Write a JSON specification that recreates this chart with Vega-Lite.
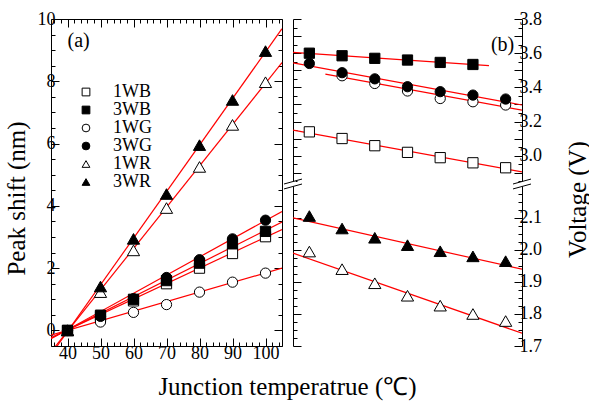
{
  "$schema": "https://vega.github.io/schema/vega-lite/v6.json",
  "padding": {"left": 4, "top": 10, "right": 2, "bottom": 2},
  "bounds": "flush",
  "config": {
    "font": "Liberation Serif",
    "view": {"stroke": null},
    "axis": {
      "grid": false, "domainColor": "black", "tickColor": "black", "labelColor": "black", "titleColor": "black",
      "labelFont": "Liberation Serif", "titleFont": "Liberation Serif", "labelFontSize": 18, "titleFontSize": 25,
      "titleFontWeight": "normal", "labelFlush": false, "labelOverlap": false, "domainWidth": 1, "tickWidth": 1
    },
    "legend": {
      "orient": "none", "legendX": 26, "legendY": 64, "labelFont": "Liberation Serif", "labelFontSize": 18,
      "labelColor": "black", "symbolSize": 60, "symbolStrokeWidth": 1,
      "rowPadding": 0, "labelOffset": 18
    }
  },
  "datasets": {
    "shift": [
      {"series": "1WB", "T": 40, "shift": 0}, {"series": "1WB", "T": 50, "shift": 0.45}, {"series": "1WB", "T": 60, "shift": 0.95}, {"series": "1WB", "T": 70, "shift": 1.5}, {"series": "1WB", "T": 80, "shift": 2.0}, {"series": "1WB", "T": 90, "shift": 2.47}, {"series": "1WB", "T": 100, "shift": 3.01},
      {"series": "3WB", "T": 40, "shift": 0}, {"series": "3WB", "T": 50, "shift": 0.49}, {"series": "3WB", "T": 60, "shift": 1.0}, {"series": "3WB", "T": 70, "shift": 1.6}, {"series": "3WB", "T": 80, "shift": 2.16}, {"series": "3WB", "T": 90, "shift": 2.78}, {"series": "3WB", "T": 100, "shift": 3.18},
      {"series": "1WG", "T": 40, "shift": 0}, {"series": "1WG", "T": 50, "shift": 0.27}, {"series": "1WG", "T": 60, "shift": 0.58}, {"series": "1WG", "T": 70, "shift": 0.83}, {"series": "1WG", "T": 80, "shift": 1.23}, {"series": "1WG", "T": 90, "shift": 1.55}, {"series": "1WG", "T": 100, "shift": 1.84},
      {"series": "3WG", "T": 40, "shift": 0}, {"series": "3WG", "T": 50, "shift": 0.45}, {"series": "3WG", "T": 60, "shift": 1.02}, {"series": "3WG", "T": 70, "shift": 1.7}, {"series": "3WG", "T": 80, "shift": 2.27}, {"series": "3WG", "T": 90, "shift": 2.94}, {"series": "3WG", "T": 100, "shift": 3.54},
      {"series": "1WR", "T": 40, "shift": 0}, {"series": "1WR", "T": 50, "shift": 1.23}, {"series": "1WR", "T": 60, "shift": 2.57}, {"series": "1WR", "T": 70, "shift": 3.93}, {"series": "1WR", "T": 80, "shift": 5.25}, {"series": "1WR", "T": 90, "shift": 6.6}, {"series": "1WR", "T": 100, "shift": 7.97},
      {"series": "3WR", "T": 40, "shift": 0}, {"series": "3WR", "T": 50, "shift": 1.41}, {"series": "3WR", "T": 60, "shift": 2.94}, {"series": "3WR", "T": 70, "shift": 4.38}, {"series": "3WR", "T": 80, "shift": 5.95}, {"series": "3WR", "T": 90, "shift": 7.4}, {"series": "3WR", "T": 100, "shift": 8.97}
    ],
    "shiftfit": [
      {"series": "1WB", "T": 35, "shift": -0.23}, {"series": "1WB", "T": 105, "shift": 3.24},
      {"series": "3WB", "T": 35, "shift": -0.25}, {"series": "3WB", "T": 105, "shift": 3.48},
      {"series": "1WG", "T": 35, "shift": -0.15}, {"series": "1WG", "T": 105, "shift": 2.0},
      {"series": "3WG", "T": 35, "shift": -0.27}, {"series": "3WG", "T": 105, "shift": 3.82},
      {"series": "1WR", "T": 35, "shift": -0.69}, {"series": "1WR", "T": 105, "shift": 8.6},
      {"series": "3WR", "T": 35, "shift": -0.78}, {"series": "3WR", "T": 105, "shift": 9.69}
    ],
    "volt": [
      {"series": "1WB", "T": 40, "volt": 3.14}, {"series": "1WB", "T": 50, "volt": 3.101}, {"series": "1WB", "T": 60, "volt": 3.059}, {"series": "1WB", "T": 70, "volt": 3.02}, {"series": "1WB", "T": 80, "volt": 2.989}, {"series": "1WB", "T": 90, "volt": 2.959}, {"series": "1WB", "T": 100, "volt": 2.93},
      {"series": "3WB", "T": 40, "volt": 3.6}, {"series": "3WB", "T": 50, "volt": 3.585}, {"series": "3WB", "T": 60, "volt": 3.57}, {"series": "3WB", "T": 70, "volt": 3.56}, {"series": "3WB", "T": 80, "volt": 3.546}, {"series": "3WB", "T": 90, "volt": 3.534},
      {"series": "1WG", "T": 50, "volt": 3.468}, {"series": "1WG", "T": 60, "volt": 3.423}, {"series": "1WG", "T": 70, "volt": 3.379}, {"series": "1WG", "T": 80, "volt": 3.335}, {"series": "1WG", "T": 90, "volt": 3.316}, {"series": "1WG", "T": 100, "volt": 3.297},
      {"series": "3WG", "T": 40, "volt": 3.54}, {"series": "3WG", "T": 50, "volt": 3.486}, {"series": "3WG", "T": 60, "volt": 3.45}, {"series": "3WG", "T": 70, "volt": 3.404}, {"series": "3WG", "T": 80, "volt": 3.375}, {"series": "3WG", "T": 90, "volt": 3.355}, {"series": "3WG", "T": 100, "volt": 3.332},
      {"series": "1WR", "T": 40, "volt": 1.995}, {"series": "1WR", "T": 50, "volt": 1.94}, {"series": "1WR", "T": 60, "volt": 1.896}, {"series": "1WR", "T": 70, "volt": 1.857}, {"series": "1WR", "T": 80, "volt": 1.826}, {"series": "1WR", "T": 90, "volt": 1.8}, {"series": "1WR", "T": 100, "volt": 1.778},
      {"series": "3WR", "T": 40, "volt": 2.106}, {"series": "3WR", "T": 50, "volt": 2.067}, {"series": "3WR", "T": 60, "volt": 2.038}, {"series": "3WR", "T": 70, "volt": 2.015}, {"series": "3WR", "T": 80, "volt": 1.996}, {"series": "3WR", "T": 90, "volt": 1.98}, {"series": "3WR", "T": 100, "volt": 1.965}
    ],
    "voltfit": [
      {"series": "1WB", "T": 35, "volt": 3.15}, {"series": "1WB", "T": 105, "volt": 2.906},
      {"series": "3WB", "T": 35, "volt": 3.605}, {"series": "3WB", "T": 94.9, "volt": 3.527},
      {"series": "1WG", "T": 44.9, "volt": 3.478}, {"series": "1WG", "T": 105, "volt": 3.267},
      {"series": "3WG", "T": 35, "volt": 3.544}, {"series": "3WG", "T": 105, "volt": 3.297},
      {"series": "1WR", "T": 35, "volt": 1.99}, {"series": "1WR", "T": 105, "volt": 1.74},
      {"series": "3WR", "T": 35, "volt": 2.1}, {"series": "3WR", "T": 105, "volt": 1.94}
    ],
    "labels": [
      {"panel": "a", "T": 40, "v": 9.28, "label": "(a)"},
      {"panel": "b", "T": 95.5, "v": 3.647, "label": "(b)"}
    ],
    "breaks": [
      {"T": 35, "v": 2.206}, {"T": 105, "v": 2.206}
    ]
  },
  "spacing": 11,
  "hconcat": [
    {
      "width": 231, "height": 327,
      "layer": [
        {
          "data": {"name": "shiftfit"},
          "mark": {"type": "line", "color": "#ff0000", "strokeWidth": 1.2, "clip": true},
          "encoding": {
            "x": {"field": "T", "type": "quantitative", "scale": {"domain": [35, 105], "nice": false, "zero": false},
              "axis": {"orient": "top", "values": [36,38,40,42,44,46,48,50,52,54,56,58,60,62,64,66,68,70,72,74,76,78,80,82,84,86,88,90,92,94,96,98,100,102,104], "labels": false, "title": null,
                "tickSize": {"condition": {"test": "datum.value % 10 === 0", "value": -8}, "value": -4}}},
            "y": {"field": "shift", "type": "quantitative", "scale": {"domain": [-0.5, 10], "nice": false, "zero": false},
              "axis": {"orient": "right", "values": [-0.5,0,0.5,1,1.5,2,2.5,3,3.5,4,4.5,5,5.5,6,6.5,7,7.5,8,8.5,9,9.5,10], "labels": false, "title": null,
                "tickSize": {"condition": {"test": "datum.value % 2 === 0", "value": -8}, "value": -4}}},
            "detail": {"field": "series"}
          }
        },
        {
          "data": {"name": "shift"},
          "transform": [{"filter": "datum.series !== '1WR' && datum.series !== '3WR'"}],
          "mark": {"type": "point", "filled": true, "strokeWidth": 1, "opacity": 1, "size": 105},
          "encoding": {
            "x": {"field": "T", "type": "quantitative",
              "axis": {"orient": "bottom", "values": [36,38,40,42,44,46,48,50,52,54,56,58,60,62,64,66,68,70,72,74,76,78,80,82,84,86,88,90,92,94,96,98,100,102,104],
                "labelExpr": "datum.value % 10 === 0 ? format(datum.value, 'd') : ''", "labelPadding": 6,
                "tickSize": {"condition": {"test": "datum.value % 10 === 0", "value": -8}, "value": -4},
                "title": "Junction temperatrue (℃)", "titleX": 236, "titleY": 40, "titleBaseline": "middle"}},
            "y": {"field": "shift", "type": "quantitative",
              "axis": {"orient": "left", "values": [-0.5,0,0.5,1,1.5,2,2.5,3,3.5,4,4.5,5,5.5,6,6.5,7,7.5,8,8.5,9,9.5,10],
                "labelExpr": "datum.value % 2 === 0 ? format(datum.value, 'd') : ''", "labelPadding": 4,
                "tickSize": {"condition": {"test": "datum.value % 2 === 0", "value": -8}, "value": -4},
                "title": "Peak shift (nm)", "titleX": -35, "titleY": 179, "titleBaseline": "middle"}},
            "shape": {"field": "series", "type": "nominal",
              "scale": {"domain": ["1WB","3WB","1WG","3WG","1WR","3WR"], "range": ["square","square","circle","circle","triangle-up","triangle-up"]},
              "legend": {"title": null}},
            "fill": {"field": "series", "type": "nominal",
              "scale": {"domain": ["1WB","3WB","1WG","3WG","1WR","3WR"], "range": ["white","black","white","black","white","black"]},
              "legend": {"title": null}},
            "stroke": {"field": "series", "type": "nominal",
              "scale": {"domain": ["1WB","3WB","1WG","3WG","1WR","3WR"], "range": ["black","black","black","black","black","black"]},
              "legend": {"title": null}}
          }
        },
        {
          "data": {"name": "shift"},
          "transform": [{"filter": "datum.series === '1WR' || datum.series === '3WR'"}],
          "mark": {"type": "point", "filled": true, "strokeWidth": 1, "opacity": 1, "size": 150},
          "encoding": {
            "x": {"field": "T", "type": "quantitative", "axis": null},
            "y": {"field": "shift", "type": "quantitative", "axis": null},
            "shape": {"field": "series", "type": "nominal",
              "scale": {"domain": ["1WB","3WB","1WG","3WG","1WR","3WR"], "range": ["square","square","circle","circle","triangle-up","triangle-up"]},
              "legend": {"title": null}},
            "fill": {"field": "series", "type": "nominal",
              "scale": {"domain": ["1WB","3WB","1WG","3WG","1WR","3WR"], "range": ["white","black","white","black","white","black"]},
              "legend": {"title": null}},
            "stroke": {"field": "series", "type": "nominal",
              "scale": {"domain": ["1WB","3WB","1WG","3WG","1WR","3WR"], "range": ["black","black","black","black","black","black"]},
              "legend": {"title": null}}
          }
        },
        {
          "data": {"name": "labels"},
          "transform": [{"filter": "datum.panel === 'a'"}],
          "mark": {"type": "text", "align": "left", "baseline": "middle", "fontSize": 20, "font": "Liberation Serif", "color": "black"},
          "encoding": {
            "x": {"field": "T", "type": "quantitative", "axis": null},
            "y": {"field": "v", "type": "quantitative", "axis": null},
            "text": {"field": "label"}
          }
        }
      ],
      "resolve": {"axis": {"x": "independent", "y": "independent"}}
    },
    {
      "spacing": 0,
      "bounds": "flush",
      "vconcat": [
        {
          "width": 229, "height": 165,
          "layer": [
            {
              "data": {"name": "voltfit"},
              "transform": [{"filter": "datum.volt > 2.5"}],
              "mark": {"type": "line", "color": "#ff0000", "strokeWidth": 1.2, "clip": true},
              "encoding": {
                "x": {"field": "T", "type": "quantitative", "scale": {"domain": [35, 105], "nice": false, "zero": false},
                  "axis": {"orient": "top", "values": [36,38,40,42,44,46,48,50,52,54,56,58,60,62,64,66,68,70,72,74,76,78,80,82,84,86,88,90,92,94,96,98,100,102,104], "labels": false, "title": null,
                    "tickSize": {"condition": {"test": "datum.value % 10 === 0", "value": -8}, "value": -4}}},
                "y": {"field": "volt", "type": "quantitative", "scale": {"domain": [2.835, 3.8], "nice": false, "zero": false},
                  "axis": {"orient": "right", "values": [2.85,2.9,2.95,3.0,3.05,3.1,3.15,3.2,3.25,3.3,3.35,3.4,3.45,3.5,3.55,3.6,3.65,3.7,3.75,3.8],
                    "labelExpr": "round(datum.value*100) % 20 === 0 ? format(datum.value, '.1f') : ''", "labelPadding": 5,
                    "tickSize": {"condition": {"test": "round(datum.value*100) % 10 === 0", "value": -8}, "value": -4},
                    "title": "Voltage (V)", "titleAngle": 270, "titleX": 55, "titleY": 180, "titleBaseline": "middle"}},
                "detail": {"field": "series"}
              }
            },
            {
              "data": {"name": "volt"},
              "transform": [{"filter": "datum.volt > 2.5"}],
              "mark": {"type": "point", "filled": true, "strokeWidth": 1, "opacity": 1, "size": 105},
              "encoding": {
                "x": {"field": "T", "type": "quantitative", "axis": null},
                "y": {"field": "volt", "type": "quantitative",
                  "axis": {"orient": "left", "values": [2.85,2.9,2.95,3.0,3.05,3.1,3.15,3.2,3.25,3.3,3.35,3.4,3.45,3.5,3.55,3.6,3.65,3.7,3.75,3.8], "labels": false, "title": null,
                    "tickSize": {"condition": {"test": "round(datum.value*100) % 10 === 0", "value": -8}, "value": -4}}},
                "shape": {"field": "series", "type": "nominal",
                  "scale": {"domain": ["1WB","3WB","1WG","3WG","1WR","3WR"], "range": ["square","square","circle","circle","triangle-up","triangle-up"]},
                  "legend": {"title": null}},
                "fill": {"field": "series", "type": "nominal",
                  "scale": {"domain": ["1WB","3WB","1WG","3WG","1WR","3WR"], "range": ["white","black","white","black","white","black"]},
                  "legend": {"title": null}},
                "stroke": {"field": "series", "type": "nominal",
                  "scale": {"domain": ["1WB","3WB","1WG","3WG","1WR","3WR"], "range": ["black","black","black","black","black","black"]},
                  "legend": {"title": null}}
              }
            },
            {
              "data": {"name": "labels"},
              "transform": [{"filter": "datum.panel === 'b'"}],
              "mark": {"type": "text", "align": "left", "baseline": "middle", "fontSize": 20, "font": "Liberation Serif", "color": "black"},
              "encoding": {
                "x": {"field": "T", "type": "quantitative", "axis": null},
                "y": {"field": "v", "type": "quantitative", "axis": null},
                "text": {"field": "label"}
              }
            }
          ],
          "resolve": {"axis": {"y": "independent"}}
        },
        {
          "width": 229, "height": 162,
          "layer": [
            {
              "data": {"name": "voltfit"},
              "transform": [{"filter": "datum.volt < 2.5"}],
              "mark": {"type": "line", "color": "#ff0000", "strokeWidth": 1.2, "clip": true},
              "encoding": {
                "x": {"field": "T", "type": "quantitative", "scale": {"domain": [35, 105], "nice": false, "zero": false},
                  "axis": {"orient": "bottom", "values": [36,38,40,42,44,46,48,50,52,54,56,58,60,62,64,66,68,70,72,74,76,78,80,82,84,86,88,90,92,94,96,98,100,102,104],
                    "labelExpr": "datum.value % 10 === 0 ? format(datum.value, 'd') : ''", "labelPadding": 6, "title": null,
                    "tickSize": {"condition": {"test": "datum.value % 10 === 0", "value": -8}, "value": -4}}},
                "y": {"field": "volt", "type": "quantitative", "scale": {"domain": [1.7, 2.206], "nice": false, "zero": false},
                  "axis": {"orient": "right", "values": [1.7,1.725,1.75,1.775,1.8,1.825,1.85,1.875,1.9,1.925,1.95,1.975,2.0,2.025,2.05,2.075,2.1,2.125,2.15,2.175],
                    "labelExpr": "round(datum.value*1000) % 100 === 0 ? format(datum.value, '.1f') : ''", "labelPadding": 5, "title": null,
                    "tickSize": {"condition": {"test": "round(datum.value*1000) % 100 === 0", "value": -8}, "value": -4}}},
                "detail": {"field": "series"}
              }
            },
            {
              "data": {"name": "volt"},
              "transform": [{"filter": "datum.volt < 2.5"}],
              "mark": {"type": "point", "filled": true, "strokeWidth": 1, "opacity": 1, "size": 150},
              "encoding": {
                "x": {"field": "T", "type": "quantitative", "axis": null},
                "y": {"field": "volt", "type": "quantitative",
                  "axis": {"orient": "left", "values": [1.7,1.725,1.75,1.775,1.8,1.825,1.85,1.875,1.9,1.925,1.95,1.975,2.0,2.025,2.05,2.075,2.1,2.125,2.15,2.175], "labels": false, "title": null,
                    "tickSize": {"condition": {"test": "round(datum.value*1000) % 100 === 0", "value": -8}, "value": -4}}},
                "shape": {"field": "series", "type": "nominal",
                  "scale": {"domain": ["1WB","3WB","1WG","3WG","1WR","3WR"], "range": ["square","square","circle","circle","triangle-up","triangle-up"]},
                  "legend": {"title": null}},
                "fill": {"field": "series", "type": "nominal",
                  "scale": {"domain": ["1WB","3WB","1WG","3WG","1WR","3WR"], "range": ["white","black","white","black","white","black"]},
                  "legend": {"title": null}},
                "stroke": {"field": "series", "type": "nominal",
                  "scale": {"domain": ["1WB","3WB","1WG","3WG","1WR","3WR"], "range": ["black","black","black","black","black","black"]},
                  "legend": {"title": null}}
              }
            },
            {
              "data": {"name": "breaks"},
              "mark": {"type": "point", "filled": true, "fill": "white", "strokeWidth": 0, "size": 324, "opacity": 1,
                "shape": "M-0.3,-0.19L0.3,-0.36L0.3,0.19L-0.3,0.36Z"},
              "encoding": {
                "x": {"field": "T", "type": "quantitative", "axis": null},
                "y": {"field": "v", "type": "quantitative", "axis": null}
              }
            },
            {
              "data": {"name": "breaks"},
              "mark": {"type": "point", "filled": false, "stroke": "black", "strokeWidth": 1, "size": 324, "opacity": 1,
                "shape": "M-1,0L1,-0.55M-1,0.55L1,0"},
              "encoding": {
                "x": {"field": "T", "type": "quantitative", "axis": null},
                "y": {"field": "v", "type": "quantitative", "axis": null}
              }
            }
          ],
          "resolve": {"axis": {"y": "independent"}}
        }
      ]
    }
  ]
}
